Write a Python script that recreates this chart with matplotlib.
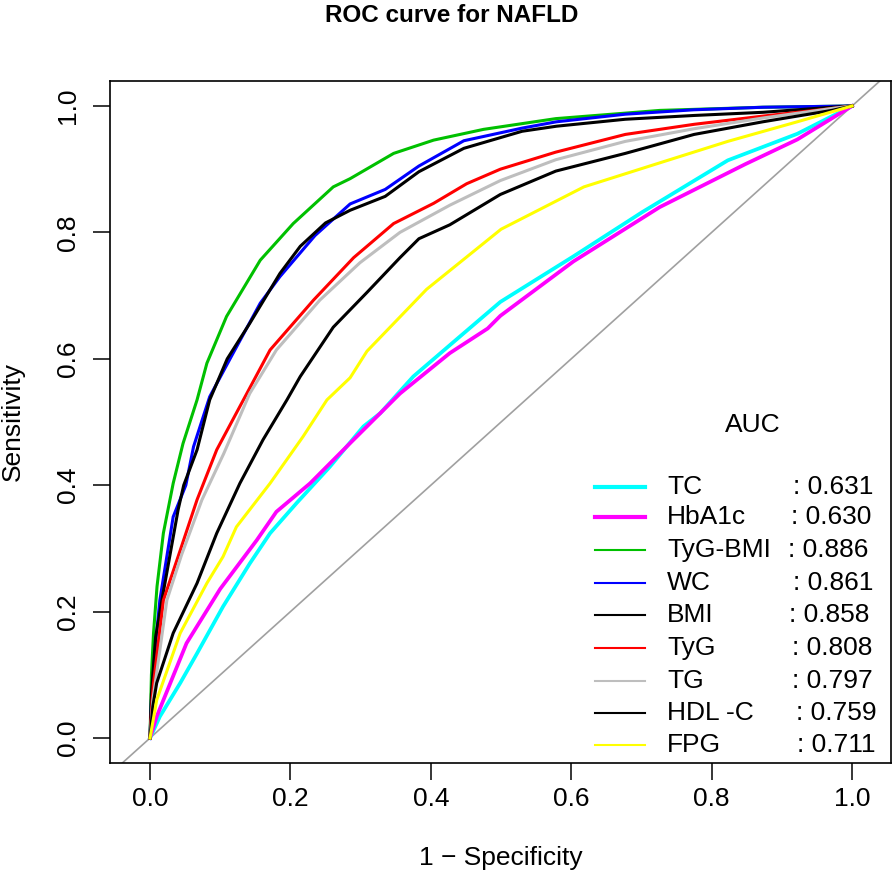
import matplotlib
matplotlib.use("Agg")
import matplotlib.pyplot as plt
from matplotlib.lines import Line2D

plt.rcParams['font.family'] = ['Liberation Sans', 'DejaVu Sans']

# ---------------- data ----------------
names = ["TC", "HbA1c", "TyG-BMI", "WC", "BMI", "TyG", "TG", "HDL -C", "FPG"]
auc_values = ["0.631", "0.630", "0.886", "0.861", "0.858", "0.808", "0.797", "0.759", "0.711"]
colors = ["#00FFFF", "#FF00FF", "#00C000", "#0000FF", "#000000", "#FF0000", "#BEBEBE", "#000000", "#FFFF00"]

tc_fpr = [0, 0.014, 0.043, 0.067, 0.104, 0.142, 0.171, 0.209, 0.256, 0.304, 0.328, 0.375, 0.438, 0.499, 0.603, 0.701, 0.823, 0.922, 1]
tc_tpr = [0, 0.034, 0.087, 0.134, 0.208, 0.276, 0.324, 0.372, 0.429, 0.493, 0.514, 0.572, 0.632, 0.690, 0.762, 0.832, 0.914, 0.956, 1]

hba1c_fpr = [0, 0.0095, 0.052, 0.100, 0.152, 0.180, 0.228, 0.280, 0.328, 0.356, 0.427, 0.481, 0.499, 0.603, 0.726, 0.848, 0.922, 1]
hba1c_tpr = [0, 0.034, 0.150, 0.236, 0.313, 0.358, 0.403, 0.461, 0.514, 0.545, 0.609, 0.648, 0.668, 0.754, 0.840, 0.908, 0.947, 1]

tygbmi_fpr = [0, 0.002, 0.005, 0.010, 0.019, 0.033, 0.047, 0.067, 0.081, 0.109, 0.157, 0.204, 0.261, 0.285, 0.347, 0.404, 0.475, 0.578, 0.726, 0.873, 1]
tygbmi_tpr = [0, 0.100, 0.166, 0.240, 0.324, 0.403, 0.466, 0.535, 0.593, 0.667, 0.756, 0.814, 0.872, 0.885, 0.925, 0.946, 0.963, 0.980, 0.993, 0.998, 1]

wc_fpr = [0, 0.002, 0.008, 0.014, 0.033, 0.051, 0.062, 0.085, 0.114, 0.157, 0.185, 0.235, 0.285, 0.335, 0.383, 0.447, 0.530, 0.579, 0.677, 0.775, 0.873, 1]
wc_tpr = [0, 0.060, 0.150, 0.218, 0.350, 0.400, 0.461, 0.540, 0.600, 0.688, 0.730, 0.795, 0.845, 0.868, 0.905, 0.945, 0.965, 0.975, 0.987, 0.994, 0.998, 1]

bmi_fpr = [0, 0.002, 0.008, 0.018, 0.040, 0.048, 0.067, 0.085, 0.110, 0.142, 0.185, 0.214, 0.250, 0.285, 0.335, 0.383, 0.447, 0.530, 0.579, 0.677, 0.775, 0.873, 0.971, 1]
bmi_tpr = [0, 0.070, 0.160, 0.225, 0.361, 0.400, 0.456, 0.535, 0.600, 0.656, 0.735, 0.778, 0.815, 0.835, 0.857, 0.896, 0.933, 0.960, 0.968, 0.979, 0.985, 0.990, 0.998, 1]

tyg_fpr = [0, 0.003, 0.005, 0.019, 0.043, 0.067, 0.095, 0.133, 0.171, 0.233, 0.290, 0.347, 0.404, 0.451, 0.499, 0.578, 0.677, 0.775, 0.873, 0.971, 1]
tyg_tpr = [0, 0.060, 0.087, 0.218, 0.297, 0.377, 0.456, 0.535, 0.614, 0.693, 0.760, 0.814, 0.846, 0.877, 0.900, 0.927, 0.955, 0.971, 0.984, 0.996, 1]

tg_fpr = [0, 0.004, 0.024, 0.045, 0.074, 0.105, 0.142, 0.180, 0.242, 0.299, 0.356, 0.427, 0.499, 0.578, 0.677, 0.775, 0.873, 0.971, 1]
tg_tpr = [0, 0.060, 0.218, 0.290, 0.377, 0.450, 0.545, 0.614, 0.693, 0.752, 0.800, 0.843, 0.882, 0.915, 0.944, 0.964, 0.981, 0.996, 1]

hdl_fpr = [0, 0.004, 0.0095, 0.033, 0.067, 0.095, 0.128, 0.161, 0.195, 0.214, 0.261, 0.309, 0.356, 0.383, 0.427, 0.499, 0.578, 0.677, 0.775, 0.873, 0.971, 1]
hdl_tpr = [0, 0.050, 0.087, 0.166, 0.245, 0.324, 0.403, 0.472, 0.535, 0.572, 0.650, 0.705, 0.760, 0.790, 0.812, 0.860, 0.897, 0.925, 0.955, 0.975, 0.993, 1]

fpg_fpr = [0, 0.0095, 0.043, 0.081, 0.104, 0.123, 0.171, 0.218, 0.252, 0.285, 0.309, 0.394, 0.500, 0.618, 0.726, 0.823, 0.922, 1]
fpg_tpr = [0, 0.060, 0.166, 0.245, 0.287, 0.334, 0.403, 0.477, 0.535, 0.570, 0.612, 0.710, 0.805, 0.872, 0.910, 0.944, 0.975, 1]

curves = [(tc_fpr, tc_tpr), (hba1c_fpr, hba1c_tpr), (tygbmi_fpr, tygbmi_tpr), (wc_fpr, wc_tpr),
          (bmi_fpr, bmi_tpr), (tyg_fpr, tyg_tpr), (tg_fpr, tg_tpr), (hdl_fpr, hdl_tpr), (fpg_fpr, fpg_tpr)]
plot_lw = [2.7, 2.7, 2.2, 2.2, 2.2, 2.2, 2.2, 2.2, 2.2]
legend_lw = [3.0, 3.0, 1.5, 1.5, 1.5, 1.5, 1.5, 1.5, 1.5]

ticks = [0.0, 0.2, 0.4, 0.6, 0.8, 1.0]
tick_labels = ["0.0", "0.2", "0.4", "0.6", "0.8", "1.0"]

# ---------------- figure ----------------
W, H = 894, 880
fig = plt.figure(figsize=(W / 100, H / 100), dpi=100)
L, R, T, B = 110, 890.7, 80.7, 762.7
ax = fig.add_axes([L / W, 1 - B / H, (R - L) / W, (B - T) / H])

def px2ax(px, py):
    return ((px - L) / (R - L), (B - py) / (B - T))

ax.set_xlim(-0.057, 1.055)
ax.set_ylim(-0.039, 1.040)

ax.plot([-0.2, 1.2], [-0.2, 1.2], color="#A0A0A0", lw=1.2, zorder=1)

for (fx, ty), c, lw in zip(curves, colors, plot_lw):
    ax.plot(fx, ty, color=c, lw=lw, solid_joinstyle="round", zorder=2)

ax.set_xticks(ticks)
ax.set_xticklabels(tick_labels)
ax.set_yticks(ticks)
ax.set_yticklabels(tick_labels, rotation=90, va="center")
ax.tick_params(axis="both", direction="out", length=12.5, width=1.1, labelsize=19, colors="black")
ax.tick_params(axis="x", pad=5)
ax.tick_params(axis="y", pad=9)
for s in ax.spines.values():
    s.set_linewidth(1.2)

ax.set_xlabel("1 \u2212 Specificity", fontsize=19, va="center")
ax.xaxis.set_label_coords(0.5, (B - 858) / (B - T))
ax.set_ylabel("Sensitivity", fontsize=19, va="center")
ax.yaxis.set_label_coords((13 - L) / (R - L), 0.5)

fig.text(452 / W, 1 - 16 / H, "ROC curve for NAFLD", fontsize=17.5, fontweight="bold",
         ha="center", va="center")

# ---------------- legend (drawn manually) ----------------
ax.text(*px2ax(753, 425), "AUC", transform=ax.transAxes, fontsize=19, ha="center", va="center")
row_y = [487, 517, 550, 583, 615, 648, 681, 713, 745]
val_x = [793, 791, 788, 793, 789, 792, 792, 796, 797]
for name, val, c, lwl, y, vx in zip(names, auc_values, colors, legend_lw, row_y, val_x):
    x0, yy = px2ax(595, y)
    x1, _ = px2ax(645, y)
    ax.add_line(Line2D([x0, x1], [yy, yy], transform=ax.transAxes, color=c, lw=lwl))
    ax.text(*px2ax(667, y), name, transform=ax.transAxes, fontsize=19, ha="left", va="center")
    ax.text(*px2ax(vx, y), ": " + val, transform=ax.transAxes, fontsize=19, ha="left", va="center")

fig.savefig("out.png", dpi=100)
